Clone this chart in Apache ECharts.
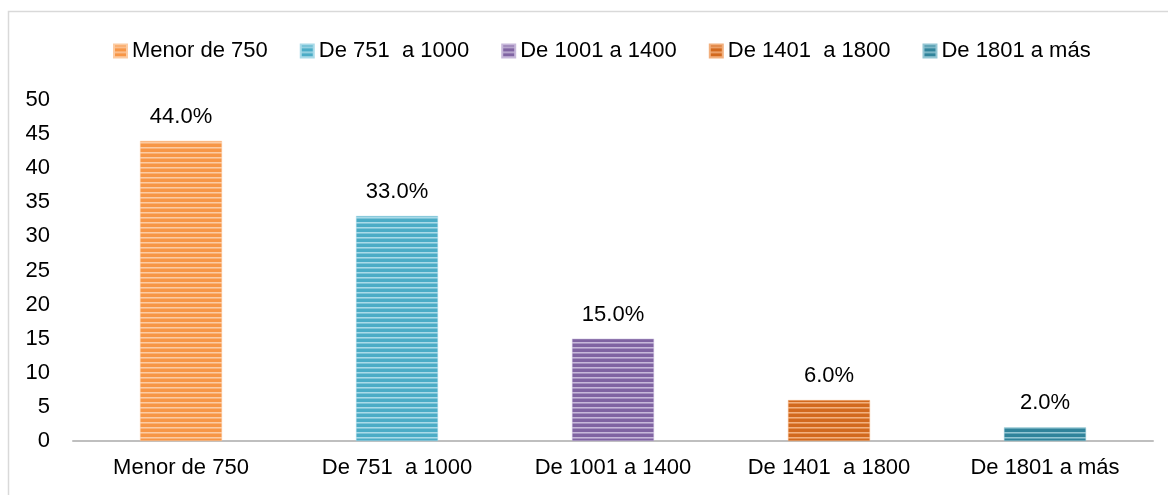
<!DOCTYPE html>
<html>
<head>
<meta charset="utf-8">
<script src="https://cdn.jsdelivr.net/npm/echarts@6/dist/echarts.min.js"></script>
<style>
  html, body { margin: 0; padding: 0; background: #fff; }
  #chart { width: 1168px; height: 495px; }
</style>
</head>
<body>
<div id="chart"></div>
<script>
// Income ranges and the share of respondents in each (%)
const categories = ['Menor de 750', 'De 751  a 1000', 'De 1001 a 1400', 'De 1401  a 1800', 'De 1801 a más'];
const values = [44.0, 33.0, 15.0, 6.0, 2.0];
const yTicks = { min: 0, max: 50, interval: 5 };

// Base / light tones for the striped fills
const baseColors = ['#F79646', '#4BACC6', '#8064A2', '#D2691E', '#31849B'];
const lightColors = ['#FCCBA2', '#A9DAE8', '#C7B8DA', '#F2B07E', '#94C6D3'];

const FONT = '"Liberation Sans", Arial, sans-serif';
const FS = 22;

// Horizontal stripe texture
function stripes(base, light) {
  const c = document.createElement('canvas');
  c.width = 4; c.height = 5;
  const g = c.getContext('2d');
  g.fillStyle = base; g.fillRect(0, 0, 4, 5);
  g.fillStyle = light; g.fillRect(0, 2, 4, 1);
  g.globalAlpha = 0.55; g.fillRect(0, 3, 4, 1);
  return { image: c, repeat: 'repeat' };
}

const series = categories.map((name, i) => ({
  name: name,
  type: 'bar',
  stack: 'all',
  barWidth: 82,
  data: values.map((v, j) => (j === i ? v : '-')),
  itemStyle: { color: stripes(baseColors[i], lightColors[i]), borderColor: lightColors[i], borderWidth: 0.5 },
  label: {
    show: true,
    position: 'top',
    distance: 13,
    formatter: p => p.value.toFixed(1) + '%',
    color: '#000',
    fontFamily: FONT,
    fontSize: FS
  }
}));

const chart = echarts.init(document.getElementById('chart'), null, { renderer: 'canvas' });
chart.setOption({
  animation: false,
  backgroundColor: '#fff',
  color: baseColors.map((b, i) => stripes(b, lightColors[i])),
  graphic: [{
    type: 'rect',
    shape: { x: 8.5, y: 11.5, width: 1300, height: 600 },
    style: { fill: 'none', stroke: '#d9d9d9', lineWidth: 1.5 },
    silent: true
  }],
  legend: {
    top: 35,
    left: 108,
    itemWidth: 13,
    itemHeight: 13,
    itemGap: 32,
    icon: 'rect',
    textStyle: { fontFamily: FONT, fontSize: FS, color: '#000' },
    data: categories
  },
  grid: { left: 73, right: 15, top: 100, bottom: 54, containLabel: false },
  xAxis: {
    type: 'category',
    data: categories,
    axisLine: { lineStyle: { color: '#bfbfbf', width: 2 } },
    axisTick: { show: false },
    axisLabel: { color: '#000', fontFamily: FONT, fontSize: FS, margin: 16 }
  },
  yAxis: {
    type: 'value',
    min: yTicks.min,
    max: yTicks.max,
    interval: yTicks.interval,
    splitLine: { show: false },
    axisLine: { show: false },
    axisTick: { show: false },
    axisLabel: { color: '#000', fontFamily: FONT, fontSize: FS, margin: 23 }
  },
  series: series
});
</script>
</body>
</html>
